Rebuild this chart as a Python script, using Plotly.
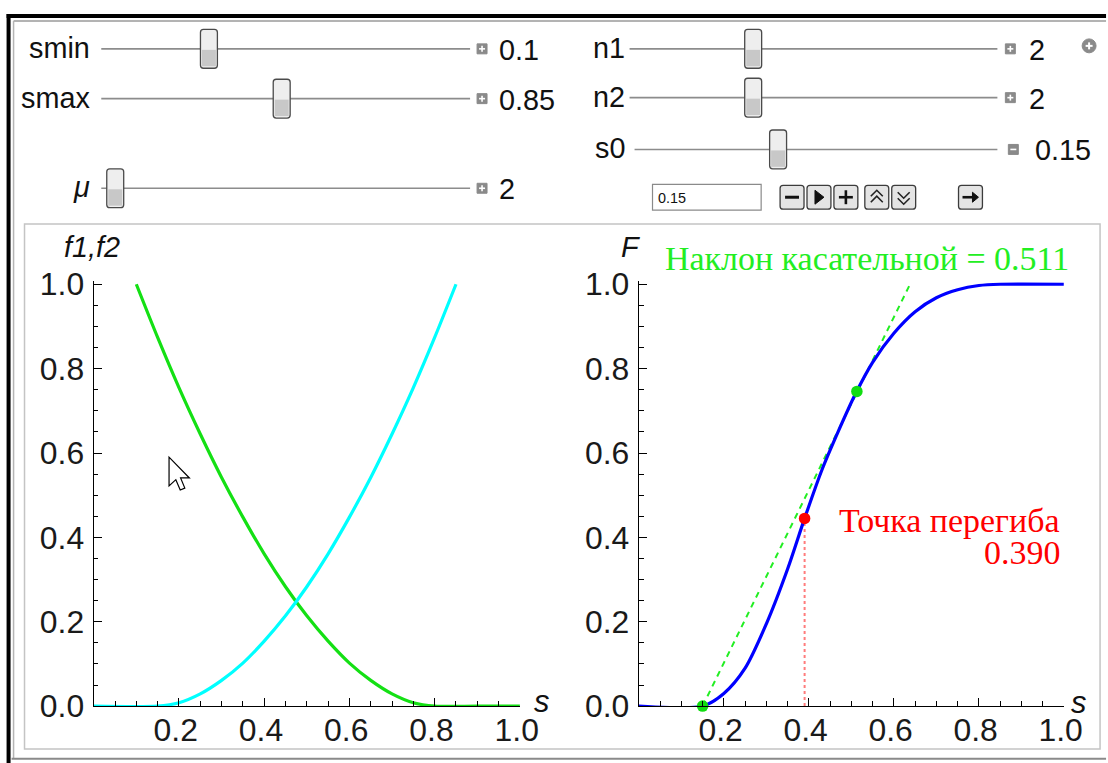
import plotly.graph_objects as go

# ---------------- data ----------------
s_f1 = [0.10, 0.15, 0.20, 0.25, 0.30, 0.35, 0.40, 0.45, 0.50, 0.55, 0.60, 0.65, 0.70, 0.75, 0.80, 0.90, 1.00]
f1 = [1.00, 0.874, 0.755, 0.645, 0.542, 0.448, 0.361, 0.283, 0.214, 0.154, 0.102, 0.061, 0.029, 0.008, 0.0, 0.0, 0.0]

s_f2 = [0.00, 0.15, 0.20, 0.25, 0.30, 0.35, 0.40, 0.45, 0.50, 0.55, 0.60, 0.65, 0.70, 0.75, 0.80, 0.85]
f2 = [0.0, 0.0, 0.008, 0.029, 0.061, 0.102, 0.154, 0.214, 0.283, 0.361, 0.448, 0.542, 0.645, 0.755, 0.874, 1.0]

s_F = [0.00, 0.15, 0.20, 0.25, 0.30, 0.35, 0.39, 0.43, 0.47, 0.51, 0.55, 0.60, 0.65, 0.70, 0.75, 0.80, 0.85, 1.00]
F = [0.0, 0.0, 0.03, 0.09, 0.195, 0.325, 0.445, 0.558, 0.653, 0.741, 0.815, 0.884, 0.935, 0.968, 0.987, 0.997, 1.0, 1.0]

tangent_s = [0.15, 0.638]
tangent_F = [0.0, 1.0]
tangent_pts_s = [0.15, 0.513]
tangent_pts_F = [0.0, 0.746]
inflect_s = 0.39
inflect_F = 0.445
slope_value = "0.511"
inflect_value = "0.390"

x_ticks = [0.2, 0.4, 0.6, 0.8, 1.0]
y_ticks = [0.0, 0.2, 0.4, 0.6, 0.8, 1.0]

sliders_left = [("smin", "0.1"), ("smax", "0.85"), ("μ", "2")]
sliders_right = [("n1", "2"), ("n2", "2"), ("s0", "0.15")]
s0_field = "0.15"

GREEN = "#14e014"
CYAN = "#00ffff"
BLUE = "#0000ff"
RED = "#ff0000"
SANS = "Liberation Sans, Arial, sans-serif"
SERIF = "Liberation Serif, Times New Roman, serif"

# canvas: positions below are given in pixels of the target picture
W, H = 1129, 780
SX, OX = 0.981, 0.4
SY, OY = 0.963, 12.0


def X(px):
    return ((px - OX) / SX) / W


def Y(py):
    return 1 - ((py - OY) / SY) / H


def fs(size):
    return size / 0.972


shapes = []
annos = []


def line(x0, y0, x1, y1, color="#888", width=1.5, dash=None):
    d = dict(type="line", xref="paper", yref="paper", x0=X(x0), y0=Y(y0), x1=X(x1), y1=Y(y1),
             line=dict(color=color, width=width))
    if dash:
        d["line"]["dash"] = dash
    shapes.append(d)


def rect(x0, y0, x1, y1, fill="white", color="#888", width=1, layer="above"):
    shapes.append(dict(type="rect", xref="paper", yref="paper", x0=X(x0), y0=Y(y1), x1=X(x1), y1=Y(y0),
                       fillcolor=fill, line=dict(color=color, width=width), layer=layer))


def poly(pts, fill=None, color="black", width=1, closed=True):
    p = "M " + " L ".join(f"{X(a):.5f},{Y(b):.5f}" for a, b in pts)
    if closed:
        p += " Z"
    d = dict(type="path", xref="paper", yref="paper", path=p, line=dict(color=color, width=width))
    if fill:
        d["fillcolor"] = fill
    shapes.append(d)


def rrect(x0, y0, x1, y1, r, fill, color, width=1.2):
    p = (f"M {X(x0 + r)},{Y(y0)} L {X(x1 - r)},{Y(y0)} Q {X(x1)},{Y(y0)} {X(x1)},{Y(y0 + r)} "
         f"L {X(x1)},{Y(y1 - r)} Q {X(x1)},{Y(y1)} {X(x1 - r)},{Y(y1)} L {X(x0 + r)},{Y(y1)} "
         f"Q {X(x0)},{Y(y1)} {X(x0)},{Y(y1 - r)} L {X(x0)},{Y(y0 + r)} Q {X(x0)},{Y(y0)} {X(x0 + r)},{Y(y0)} Z")
    shapes.append(dict(type="path", xref="paper", yref="paper", path=p, fillcolor=fill,
                       line=dict(color=color, width=width)))


def text(x, y, s, size=28, color="#111", xanchor="left", family=SANS):
    annos.append(dict(x=X(x), y=Y(y), xref="paper", yref="paper", text=s, showarrow=False,
                      xanchor=xanchor, yanchor="middle", font=dict(size=fs(size), color=color, family=family)))


def thumb(cx, cy):
    w, h = 17, 39
    rrect(cx - w / 2, cy - h / 2, cx + w / 2, cy + h / 2, 3, "#eeeeee", "#4a4a4a", 1.3)
    rect(cx - w / 2 + 1.5, cy + 1, cx + w / 2 - 1.5, cy + h / 2 - 2, fill="#c8c8c8", color="rgba(0,0,0,0)", width=0)


def small_box(cx, cy, sign):
    rect(cx - 5, cy - 5, cx + 5, cy + 5, fill="#8a8a8a", color="#8a8a8a", width=1)
    line(cx - 3, cy, cx + 3, cy, color="white", width=1.6)
    if sign == "+":
        line(cx, cy - 3, cx, cy + 3, color="white", width=1.6)


# ---------------- frame ----------------
rect(25, 223, 1104, 750, fill="white", color="#c4c4c4", width=1.5, layer="below")
line(7, 14, 1110, 14, color="black", width=4)
line(9, 12, 9, 765, color="black", width=4)
line(14, 19, 1110, 19, color="#9a9a9a", width=1.5)
line(14, 19, 14, 760, color="#b5b5b5", width=1.5)
line(12, 760, 1110, 760, color="#8a8a8a", width=2)

# ---------------- sliders ----------------
left_rows = [47, 97, 187]
left_thumbs = [210, 283, 116]
for (lab, val), yy, tx in zip(sliders_left, left_rows, left_thumbs):
    lab_txt = "<i>" + lab + "</i>" if lab == "μ" else lab
    text(93, yy - 1, lab_txt, size=28, xanchor="right")
    line(102, yy, 472, yy, color="#8c8c8c", width=1.6)
    thumb(tx, yy)
    small_box(484, yy, "+")
    text(499, yy + 1, val, size=28)

right_rows = [47, 96, 148]
right_thumbs = [756, 756, 781]
right_track_start = [632, 632, 637]
right_box = [1014, 1014, 1017]
right_sign = ["+", "+", "-"]
for i, ((lab, val), yy, tx) in enumerate(zip(sliders_right, right_rows, right_thumbs)):
    text(629, yy - 1, lab, size=28, xanchor="right")
    line(right_track_start[i], yy, 1001, yy, color="#8c8c8c", width=1.6)
    thumb(tx, yy)
    small_box(right_box[i], yy, right_sign[i])
    text(1031 if i < 2 else 1037, yy + 1, val, size=28)

# plus circle icon
shapes.append(dict(type="circle", xref="paper", yref="paper", x0=X(1086), x1=X(1100), y0=Y(51), y1=Y(37),
                   fillcolor="#8a8a8a", line=dict(color="#8a8a8a", width=1)))
line(1089.5, 44, 1096.5, 44, color="white", width=2)
line(1093, 40.5, 1093, 47.5, color="white", width=2)

# animation controls
cy = 196
rect(655, cy - 13, 764, cy + 13, fill="white", color="#8a8a8a", width=1.2)
text(659, cy + 1, s0_field, size=14, color="#111")
buttons = [(783, 807), (810, 834), (837, 861), (868, 892), (895, 919), (962, 986)]
for bx0, bx1 in buttons:
    rrect(bx0, cy - 12, bx1, cy + 12, 3, "#e4e4e4", "#3c3c3c", 1.3)
c = (783 + 807) / 2
line(c - 7, cy, c + 7, cy, color="#111", width=3)
c = (810 + 834) / 2
poly([(c - 4, cy - 7), (c - 4, cy + 7), (c + 5, cy)], fill="#111", color="#111", width=1)
c = (837 + 861) / 2
line(c - 7, cy, c + 7, cy, color="#111", width=2.6)
line(c, cy - 7, c, cy + 7, color="#111", width=2.6)
c = (868 + 892) / 2
poly([(c - 6, cy - 1), (c, cy - 7), (c + 6, cy - 1)], color="#222", width=1.6, closed=False)
poly([(c - 6, cy + 5), (c, cy - 1), (c + 6, cy + 5)], color="#222", width=1.6, closed=False)
c = (895 + 919) / 2
poly([(c - 6, cy - 5), (c, cy + 1), (c + 6, cy - 5)], color="#222", width=1.6, closed=False)
poly([(c - 6, cy + 1), (c, cy + 7), (c + 6, cy + 1)], color="#222", width=1.6, closed=False)
c = (962 + 986) / 2
line(c - 8, cy, c + 5, cy, color="#111", width=2.6)
poly([(c + 2, cy - 5), (c + 8, cy), (c + 2, cy + 5)], fill="#111", color="#111", width=1)

# mouse cursor
sc = 1.7
tip = (170, 457)
arrow = [(0, 0), (0, 17), (4, 13.3), (6.6, 19.4), (9.3, 18.3), (6.8, 12.3), (12, 12.3)]
poly([(tip[0] + a * sc, tip[1] + b * sc) for a, b in arrow], fill="white", color="black", width=1.2)

# ---------------- traces ----------------
fig = go.Figure()
fig.add_trace(go.Scatter(x=s_f1, y=f1, mode="lines", line=dict(color=GREEN, width=3.2, shape="spline", smoothing=0.8),
                         xaxis="x", yaxis="y", hoverinfo="skip"))
fig.add_trace(go.Scatter(x=s_f2, y=f2, mode="lines", line=dict(color=CYAN, width=3.2, shape="spline", smoothing=0.8),
                         xaxis="x", yaxis="y", hoverinfo="skip"))

fig.add_trace(go.Scatter(x=[inflect_s, inflect_s], y=[0, inflect_F], mode="lines",
                         line=dict(color="rgba(255,110,110,0.9)", width=2, dash="dot"),
                         xaxis="x2", yaxis="y2", hoverinfo="skip"))
fig.add_trace(go.Scatter(x=tangent_s, y=tangent_F, mode="lines",
                         line=dict(color="#22ee22", width=2, dash="6px,5px"),
                         xaxis="x2", yaxis="y2", hoverinfo="skip"))
fig.add_trace(go.Scatter(x=s_F, y=F, mode="lines", line=dict(color=BLUE, width=3.2, shape="spline", smoothing=0.8),
                         xaxis="x2", yaxis="y2", hoverinfo="skip"))
fig.add_trace(go.Scatter(x=tangent_pts_s, y=tangent_pts_F, mode="markers",
                         marker=dict(color="#11dd11", size=11.5), cliponaxis=False,
                         xaxis="x2", yaxis="y2", hoverinfo="skip"))
fig.add_trace(go.Scatter(x=[inflect_s], y=[inflect_F], mode="markers",
                         marker=dict(color=RED, size=11.5), cliponaxis=False,
                         xaxis="x2", yaxis="y2", hoverinfo="skip"))

# ---------------- axes ----------------
tickfont = dict(family=SANS, size=fs(31), color="#1a1a1a")
common = dict(showline=True, linecolor="black", linewidth=1.4, ticks="inside", ticklen=8, tickwidth=1.3,
              tickcolor="black", showgrid=False, zeroline=False, tickfont=tickfont, fixedrange=True,
              minor=dict(ticks="inside", ticklen=4.5, tickwidth=1, tickcolor="black", tick0=0, dtick=0.05,
                         showgrid=False))
y_top = 283.4 - 0.008 * 423.6
ydom = [Y(707.0), Y(y_top)]
xt = dict(tickmode="array", tickvals=x_ticks, ticktext=[f"{v:.1f}\u2009" for v in x_ticks], range=[0, 1.0],
          ticklabelstandoff=-5)
yt = dict(tickmode="array", tickvals=y_ticks, ticktext=[f"{v:.1f}" for v in y_ticks], range=[0, 1.008],
          ticklabelstandoff=2)

fig.update_layout(
    width=W, height=H, margin=dict(l=0, r=0, t=0, b=0),
    paper_bgcolor="white", plot_bgcolor="rgba(0,0,0,0)", showlegend=False,
    xaxis=dict(domain=[X(94.4), X(522.0)], anchor="y", **xt, **common),
    yaxis=dict(domain=ydom, anchor="x", **yt, **common),
    xaxis2=dict(domain=[X(641.3), X(1067.7)], anchor="y2", **xt, **common),
    yaxis2=dict(domain=ydom, anchor="x2", **yt, **common),
)

# axis labels
text(93, 246, "<i>f1,f2</i>", size=28, xanchor="center")
text(633, 246, "<i>F</i>", size=28, xanchor="center")
text(544, 702, "<i>s</i>", size=30, xanchor="center")
text(1082, 703, "<i>s</i>", size=30, xanchor="center")

# plot texts
text(870, 258, "Наклон касательной = " + slope_value, size=33, color="#22ee22", xanchor="center", family=SERIF)
text(1066, 521, "Точка перегиба", size=33, color=RED, xanchor="right", family=SERIF)
text(1066, 553, inflect_value, size=33, color=RED, xanchor="right", family=SERIF)

fig.update_layout(shapes=shapes, annotations=annos)
fig.write_html("out.html", config={"displayModeBar": False},
               post_script="document.body.style.margin='0';document.body.style.overflow='hidden';")
